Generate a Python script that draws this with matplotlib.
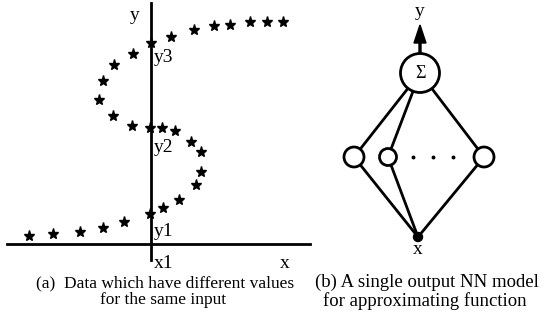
import matplotlib
matplotlib.use("Agg")
import matplotlib.pyplot as plt
from matplotlib.patches import Circle

plt.rcParams['font.family'] = ['Liberation Serif', 'DejaVu Serif']

# ---------------------------------------------------------------
# (a) data points: an S-shaped curve, several y values for one x
# ---------------------------------------------------------------
star_x = [-12.2, -9.8, -7.1, -4.8, -2.7, -0.1, 1.2, 2.8, 4.5, 5.0,
          5.0, 4.0, 2.4, 1.1, -0.1, -1.9, -3.8, -5.2, -4.8, -3.7,
          -1.8, 0.0, 2.0, 4.3, 6.3, 7.9, 9.9, 11.6, 13.2]
star_y = [0.8, 1.0, 1.2, 1.6, 2.2, 3.0, 3.6, 4.4, 5.9, 7.2,
          9.2, 10.2, 11.3, 11.6, 11.6, 11.8, 12.8, 14.4, 16.3, 17.9,
          19.0, 20.1, 20.7, 21.4, 21.8, 21.9, 22.2, 22.2, 22.2]
y_marks = ["y1", "y2", "y3"]
y_mark_pos = [1.3, 9.6, 18.6]

# ---------------------------------------------------------------
# (b) network layout
# ---------------------------------------------------------------
sum_node = (0.2, 16.4)
sum_radius = 1.95
hidden_x = [-6.4, -3.0, 6.6]
hidden_y = 8.0
hidden_r = [1.0, 0.85, 1.0]
dots_x = [-0.5, 1.5, 3.5]
input_node = (0.0, 0.0)

LW = 2.0

fig = plt.figure(figsize=(5.51, 3.2), dpi=100)

# ---- left panel ----
ax = fig.add_axes([0, 0, 300 / 551, 1])
ax.set_xlim(-15.1, 14.9)
ax.set_ylim(-7.6, 24.4)
ax.axis('off')

ax.plot([-14.4, 15.9], [0, 0], color='black', lw=LW, clip_on=False)
ax.plot([0, 0], [-1.6, 24.1], color='black', lw=LW)
ax.plot(star_x, star_y, linestyle='none', marker='*', markersize=8,
        color='black')

ax.text(-1.6, 22.8, "y", fontsize=14, ha='center', va='center')
for lab, yy in zip(y_marks, y_mark_pos):
    ax.text(0.3, yy, lab, fontsize=14, ha='left', va='center')
ax.text(0.3, -2.0, "x1", fontsize=14, ha='left', va='center')
ax.text(13.4, -2.0, "x", fontsize=14, ha='center', va='center')

# ---- right panel ----
bx = fig.add_axes([300 / 551, 0, 251 / 551, 1])
bx.set_xlim(-11.8, 13.3)
bx.set_ylim(-8.3, 23.7)
bx.axis('off')

for hx in hidden_x:
    bx.plot([sum_node[0], hx], [sum_node[1], hidden_y], color='black',
            lw=LW, zorder=1)
    bx.plot([hx, input_node[0]], [hidden_y, input_node[1]], color='black',
            lw=LW, zorder=1)

bx.add_patch(Circle(sum_node, sum_radius, facecolor='white',
                    edgecolor='black', lw=LW, zorder=2))
bx.text(sum_node[0], sum_node[1], "Σ", fontsize=13, ha='center',
        va='center', zorder=3)
for hx, r in zip(hidden_x, hidden_r):
    bx.add_patch(Circle((hx, hidden_y), r, facecolor='white',
                        edgecolor='black', lw=LW, zorder=2))
bx.plot(dots_x, [hidden_y] * len(dots_x), linestyle='none', marker='o',
        markersize=1.8, color='black')
bx.add_patch(Circle(input_node, 0.45, facecolor='black', edgecolor='black',
                    zorder=3))

bx.arrow(sum_node[0], sum_node[1] + sum_radius, 0, 21.2 - sum_node[1] - sum_radius,
         width=0.2, head_width=1.2, head_length=1.8,
         length_includes_head=True, color='black')
bx.text(sum_node[0], 22.6, "y", fontsize=14, ha='center', va='center')
bx.text(input_node[0], -1.3, "x", fontsize=14, ha='center', va='center')

# ---- captions ----
fig.text(165 / 551, 1 - 283 / 320, "(a)  Data which have different values",
         fontsize=12.5, ha='center', va='center')
fig.text(163 / 551, 1 - 300 / 320, "for the same input",
         fontsize=12.5, ha='center', va='center')
fig.text(427 / 551, 1 - 282 / 320, "(b) A single output NN model",
         fontsize=13.5, ha='center', va='center')
fig.text(425 / 551, 1 - 301 / 320, "for approximating function",
         fontsize=13.5, ha='center', va='center')

fig.savefig("out.png", dpi=100)
